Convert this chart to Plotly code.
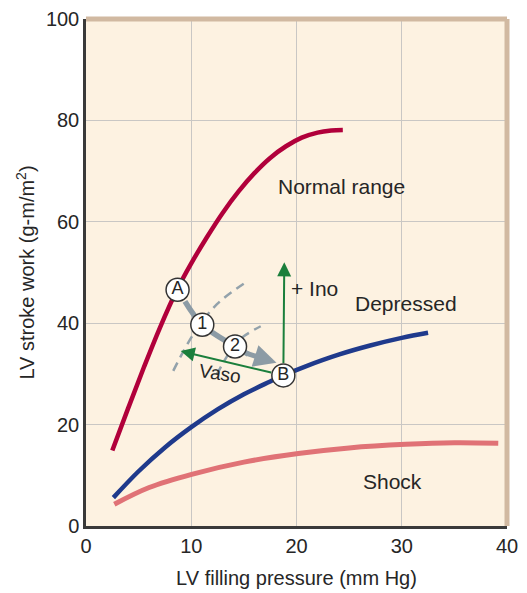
import plotly.graph_objects as go

# curves (x: LV filling pressure, y: LV stroke work)
normal_x = [2.5, 4.0, 5.5, 7.0, 8.6, 10.0, 11.5, 13.0, 14.5, 16.0, 17.5, 19.0, 20.5, 22.0, 23.3, 24.4]
normal_y = [14.9, 23.2, 31.3, 39.0, 46.4, 51.8, 57.0, 61.8, 66.0, 69.6, 72.6, 74.9, 76.6, 77.6, 78.0, 78.1]

depressed_x = [2.6, 5.0, 7.5, 10.0, 12.5, 15.0, 17.5, 18.75, 21.0, 24.0, 27.0, 30.0, 32.5]
depressed_y = [5.6, 10.8, 15.5, 19.5, 23.0, 26.0, 28.5, 29.7, 31.6, 33.8, 35.6, 37.1, 38.1]

shock_x = [2.69, 6.0, 10.04, 15.0, 20.17, 25.0, 30.38, 35.0, 39.17]
shock_y = [4.3, 7.6, 10.2, 12.6, 14.3, 15.4, 16.1, 16.4, 16.3]

dash1_x = [8.29, 10.2, 12.42, 15.42]
dash1_y = [30.6, 37.8, 43.7, 48.4]
dash2_x = [12.4, 13.5, 14.6, 16.6]
dash2_y = [29.8, 33.8, 36.8, 39.4]

points = ['A', '1', '2', 'B']
points_x = [8.7, 11.05, 14.16, 18.75]
points_y = [46.6, 39.7, 35.4, 29.7]

path_x = [9.4, 11.05, 14.16, 15.4]
path_y = [44.3, 39.7, 35.4, 33.9]

FONT = "Liberation Sans, Arial, sans-serif"
DARK = "#262626"

fig = go.Figure()

fig.add_scatter(x=dash1_x, y=dash1_y, mode='lines', line_shape='spline',
                line=dict(color='#93a2ab', width=2.5, dash='9px,6px'))
fig.add_scatter(x=dash2_x, y=dash2_y, mode='lines', line_shape='spline',
                line=dict(color='#93a2ab', width=2.5, dash='9px,6px'))

fig.add_scatter(x=shock_x, y=shock_y, mode='lines', line_shape='spline',
                line=dict(color='#e07276', width=5))
fig.add_scatter(x=depressed_x, y=depressed_y, mode='lines', line_shape='spline',
                line=dict(color='#1f3a8c', width=4.5))
fig.add_scatter(x=normal_x, y=normal_y, mode='lines', line_shape='spline',
                line=dict(color='#b1003b', width=4.5))

# grey treatment path A -> 1 -> 2 -> B
fig.add_scatter(x=path_x, y=path_y, mode='lines', line_shape='spline',
                line=dict(color='#8c9ba5', width=5.5))
fig.add_annotation(x=18.1, y=32.2, ax=15.2, ay=34.1, axref='x', ayref='y',
                   showarrow=True, arrowhead=2, arrowsize=0.9, arrowwidth=5,
                   arrowcolor='#8c9ba5', text='')

# green arrows from B
fig.add_annotation(x=18.84, y=52.0, ax=18.75, ay=29.7, axref='x', ayref='y',
                   showarrow=True, arrowhead=2, arrowsize=1.4, arrowwidth=2,
                   arrowcolor='#1b7f3c', startstandoff=11, text='')
fig.add_annotation(x=9.0, y=34.5, ax=18.75, ay=29.7, axref='x', ayref='y',
                   showarrow=True, arrowhead=2, arrowsize=1.4, arrowwidth=2,
                   arrowcolor='#1b7f3c', startstandoff=11, text='')

fig.add_scatter(x=points_x, y=points_y, mode='markers+text', text=points,
                textposition='middle center',
                textfont=dict(family=FONT, size=18, color=DARK),
                marker=dict(size=23, color='white',
                            line=dict(color='#333333', width=1.5)))

labels = [
    dict(x=24.3, y=67.0, text='Normal range', xanchor='center'),
    dict(x=30.38, y=43.8, text='Depressed', xanchor='center'),
    dict(x=29.1, y=8.7, text='Shock', xanchor='center'),
    dict(x=19.3, y=46.9, text='+ Ino', xanchor='left'),
]
for lab in labels:
    fig.add_annotation(x=lab['x'], y=lab['y'], text=lab['text'],
                       xanchor=lab['xanchor'], showarrow=False,
                       font=dict(family=FONT, size=21, color=DARK))
fig.add_annotation(x=12.73, y=30.0, text='Vaso', showarrow=False, textangle=9,
                   font=dict(family=FONT, size=19, color=DARK))

# tan frame on top and right
fig.add_shape(type='line', xref='paper', yref='paper', x0=0, x1=1.0, y0=1, y1=1,
              line=dict(color='#d1b9a1', width=5))
fig.add_shape(type='line', xref='paper', yref='paper', x0=1, x1=1, y0=0, y1=1,
              line=dict(color='#d1b9a1', width=5))

# page body adds an 8px offset, so the figure is 8px smaller
fig.update_layout(
    width=519,
    height=585,
    margin=dict(l=78, r=20, t=11, b=67),
    showlegend=False,
    plot_bgcolor='#fdf2e1',
    paper_bgcolor='white',
    font=dict(family=FONT, size=20, color=DARK),
)
fig.update_xaxes(
    range=[0, 40],
    tickvals=[0, 10, 20, 30, 40],
    showgrid=True, gridcolor='#c9c7c4', gridwidth=1.2,
    zeroline=False,
    showline=True, linecolor='#3a3a3a', linewidth=2.5,
    ticks='', ticklabeloverflow='allow', automargin=False,
    title=dict(text='LV filling pressure (mm Hg)', standoff=16,
               font=dict(size=20)),
)
fig.update_yaxes(
    range=[0, 100],
    tickvals=[0, 20, 40, 60, 80, 100],
    showgrid=True, gridcolor='#c9c7c4', gridwidth=1.2,
    zeroline=False,
    showline=True, linecolor='#3a3a3a', linewidth=2.5,
    ticks='', ticklabeloverflow='allow', automargin=False,
    title=dict(text='LV stroke work (g-m/m<sup>2</sup>)', standoff=6,
               font=dict(size=20)),
)

fig.write_html("out.html")
